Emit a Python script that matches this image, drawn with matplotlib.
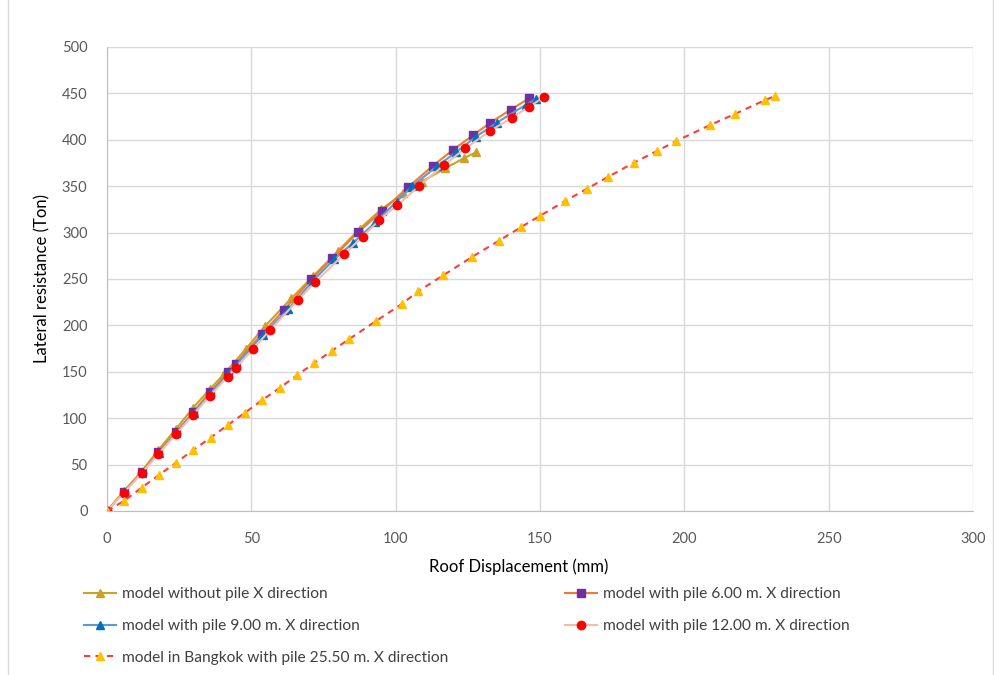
import matplotlib
matplotlib.use('Agg')
import matplotlib.pyplot as plt
from matplotlib.patches import Rectangle

plt.rcParams['font.family'] = ['Lato', 'DejaVu Sans']

# Roof displacement (mm) / lateral resistance (Ton)
x_no_pile = [0, 5.9, 12.0, 17.8, 23.9, 29.8, 35.7, 40.3, 48.0, 54.8, 63.9, 71.4,
             80.0, 87.5, 95.0, 102.6, 109.0, 117.2, 123.6, 127.8]
y_no_pile = [0, 21.5, 42.5, 65.7, 88.4, 111.0, 131.5, 146.6, 174.2, 199.4, 229.2, 253.0,
             280.0, 304.0, 325.0, 342.3, 354.8, 369.3, 380.1, 386.5]

x_pile6 = [0, 5.9, 12.0, 17.8, 23.9, 29.9, 35.7, 42.0, 44.6, 53.6, 61.3, 70.8,
           78.0, 87.0, 95.4, 104.3, 112.8, 119.7, 126.9, 132.8, 139.8, 146.2]
y_pile6 = [0, 20.8, 41.7, 63.3, 84.8, 106.7, 127.9, 149.5, 158.7, 190.7, 216.6, 249.5,
           272.3, 300.3, 323.6, 348.9, 371.8, 388.7, 405.2, 418.4, 432.4, 444.7]

x_pile9 = [0, 6.0, 12.0, 17.9, 24.0, 30.0, 35.8, 42.0, 44.8, 53.9, 62.8, 71.3,
           78.7, 85.3, 93.0, 100.3, 105.8, 114.4, 120.9, 127.8, 135.0, 145.0, 148.5]
y_pile9 = [0, 20.5, 41.2, 62.5, 84.0, 105.5, 126.5, 148.0, 157.5, 189.5, 217.3, 248.0,
           271.2, 289.1, 311.0, 333.3, 350.2, 371.8, 386.5, 403.3, 418.4, 437.5, 444.0]

x_pile12 = [0, 5.9, 12.0, 17.8, 23.9, 29.9, 35.7, 41.8, 44.7, 50.7, 56.5, 66.1,
            72.0, 82.2, 88.6, 94.3, 100.6, 108.0, 116.8, 124.1, 132.7, 140.2, 146.2, 151.5]
y_pile12 = [0, 19.7, 40.6, 61.4, 82.7, 103.8, 124.2, 144.7, 154.4, 174.9, 195.0, 227.0,
            246.4, 276.9, 295.6, 313.6, 329.7, 349.9, 372.8, 390.8, 409.5, 423.8, 435.7, 446.1]

x_bkk = [0, 6.0, 12.0, 17.9, 23.9, 29.9, 35.9, 41.9, 47.8, 53.8, 59.8, 65.8,
         71.7, 77.8, 83.8, 93.2, 102.1, 107.8, 116.5, 126.4, 135.8, 143.3, 149.9,
         158.7, 166.3, 173.5, 182.5, 190.5, 197.0, 208.9, 217.5, 227.8, 231.5]
y_bkk = [0, 11.1, 25.1, 38.5, 52.0, 65.7, 79.0, 92.7, 105.9, 119.6, 132.5, 146.2,
         159.2, 172.4, 185.0, 204.7, 223.0, 236.7, 254.0, 273.7, 291.3, 305.7, 317.9,
         334.0, 347.3, 359.9, 375.3, 387.9, 398.4, 415.9, 427.8, 442.6, 447.2]

labels = ['model without pile X direction',
          'model with pile 6.00 m. X direction',
          'model with pile 9.00 m. X direction',
          'model with pile 12.00 m. X direction',
          'model in Bangkok with pile 25.50 m. X direction']

fig = plt.figure(figsize=(9.94, 6.75), dpi=100)
ax = fig.add_axes([0.1076, 0.2430, 0.8714, 0.6874])

h1, = ax.plot(x_no_pile, y_no_pile, '-^', color='#C9A227', mfc='#C9A227', mec='#C9A227',
              lw=1.5, ms=5.5, label=labels[0])
h2, = ax.plot(x_pile6, y_pile6, '-s', color='#ED7D31', mfc='#7030A0', mec='#7030A0',
              lw=1.5, ms=5.5, label=labels[1])
h3, = ax.plot(x_pile9, y_pile9, '-^', color='#5B9BD5', mfc='#0070C0', mec='#0070C0',
              lw=1.5, ms=5.5, label=labels[2])
h4, = ax.plot(x_pile12, y_pile12, '-o', color='#F8BBA8', mfc='#FF0000', mec='#FF0000',
              lw=1.5, ms=6, label=labels[3])
h5, = ax.plot(x_bkk, y_bkk, '--^', color='#FF3B3B', mfc='#FFC000', mec='#FFC000',
              lw=1.5, ms=5.5, dashes=(3, 2.5), label=labels[4])

ax.set_xlim(0, 300)
ax.set_ylim(0, 500)
ax.set_xticks(range(0, 301, 50))
ax.set_yticks(range(0, 501, 50))
ax.grid(True, color='#D9D9D9', lw=1)
ax.set_axisbelow(True)
for s in ['top', 'right']:
    ax.spines[s].set_visible(False)
for s in ['left', 'bottom']:
    ax.spines[s].set_color('#BFBFBF')
ax.tick_params(length=0, labelsize=10.5, labelcolor='#595959')
ax.tick_params(axis='x', pad=15)
ax.tick_params(axis='y', pad=14)
ax.set_xlabel('Roof Displacement (mm)', fontsize=12, labelpad=9, x=0.475)
ax.set_ylabel('Lateral resistance (Ton)', fontsize=12, labelpad=8)

# excel fills rows first, matplotlib fills columns first
fig.legend([h1, h3, h5, h2, h4], [labels[0], labels[2], labels[4], labels[1], labels[3]],
           ncol=2, loc='upper left', bbox_to_anchor=(0.070, 0.151), frameon=False,
           fontsize=11.2, handlelength=2.1, handletextpad=0.35, columnspacing=7.5,
           labelspacing=1.15, labelcolor='#404040')

fig.patches.append(Rectangle((8 / 994, -0.01), 0.999 - 8 / 994, 1.02,
                             transform=fig.transFigure, fill=False,
                             edgecolor='#D9D9D9', lw=1))

fig.savefig('out.png', dpi=100)
